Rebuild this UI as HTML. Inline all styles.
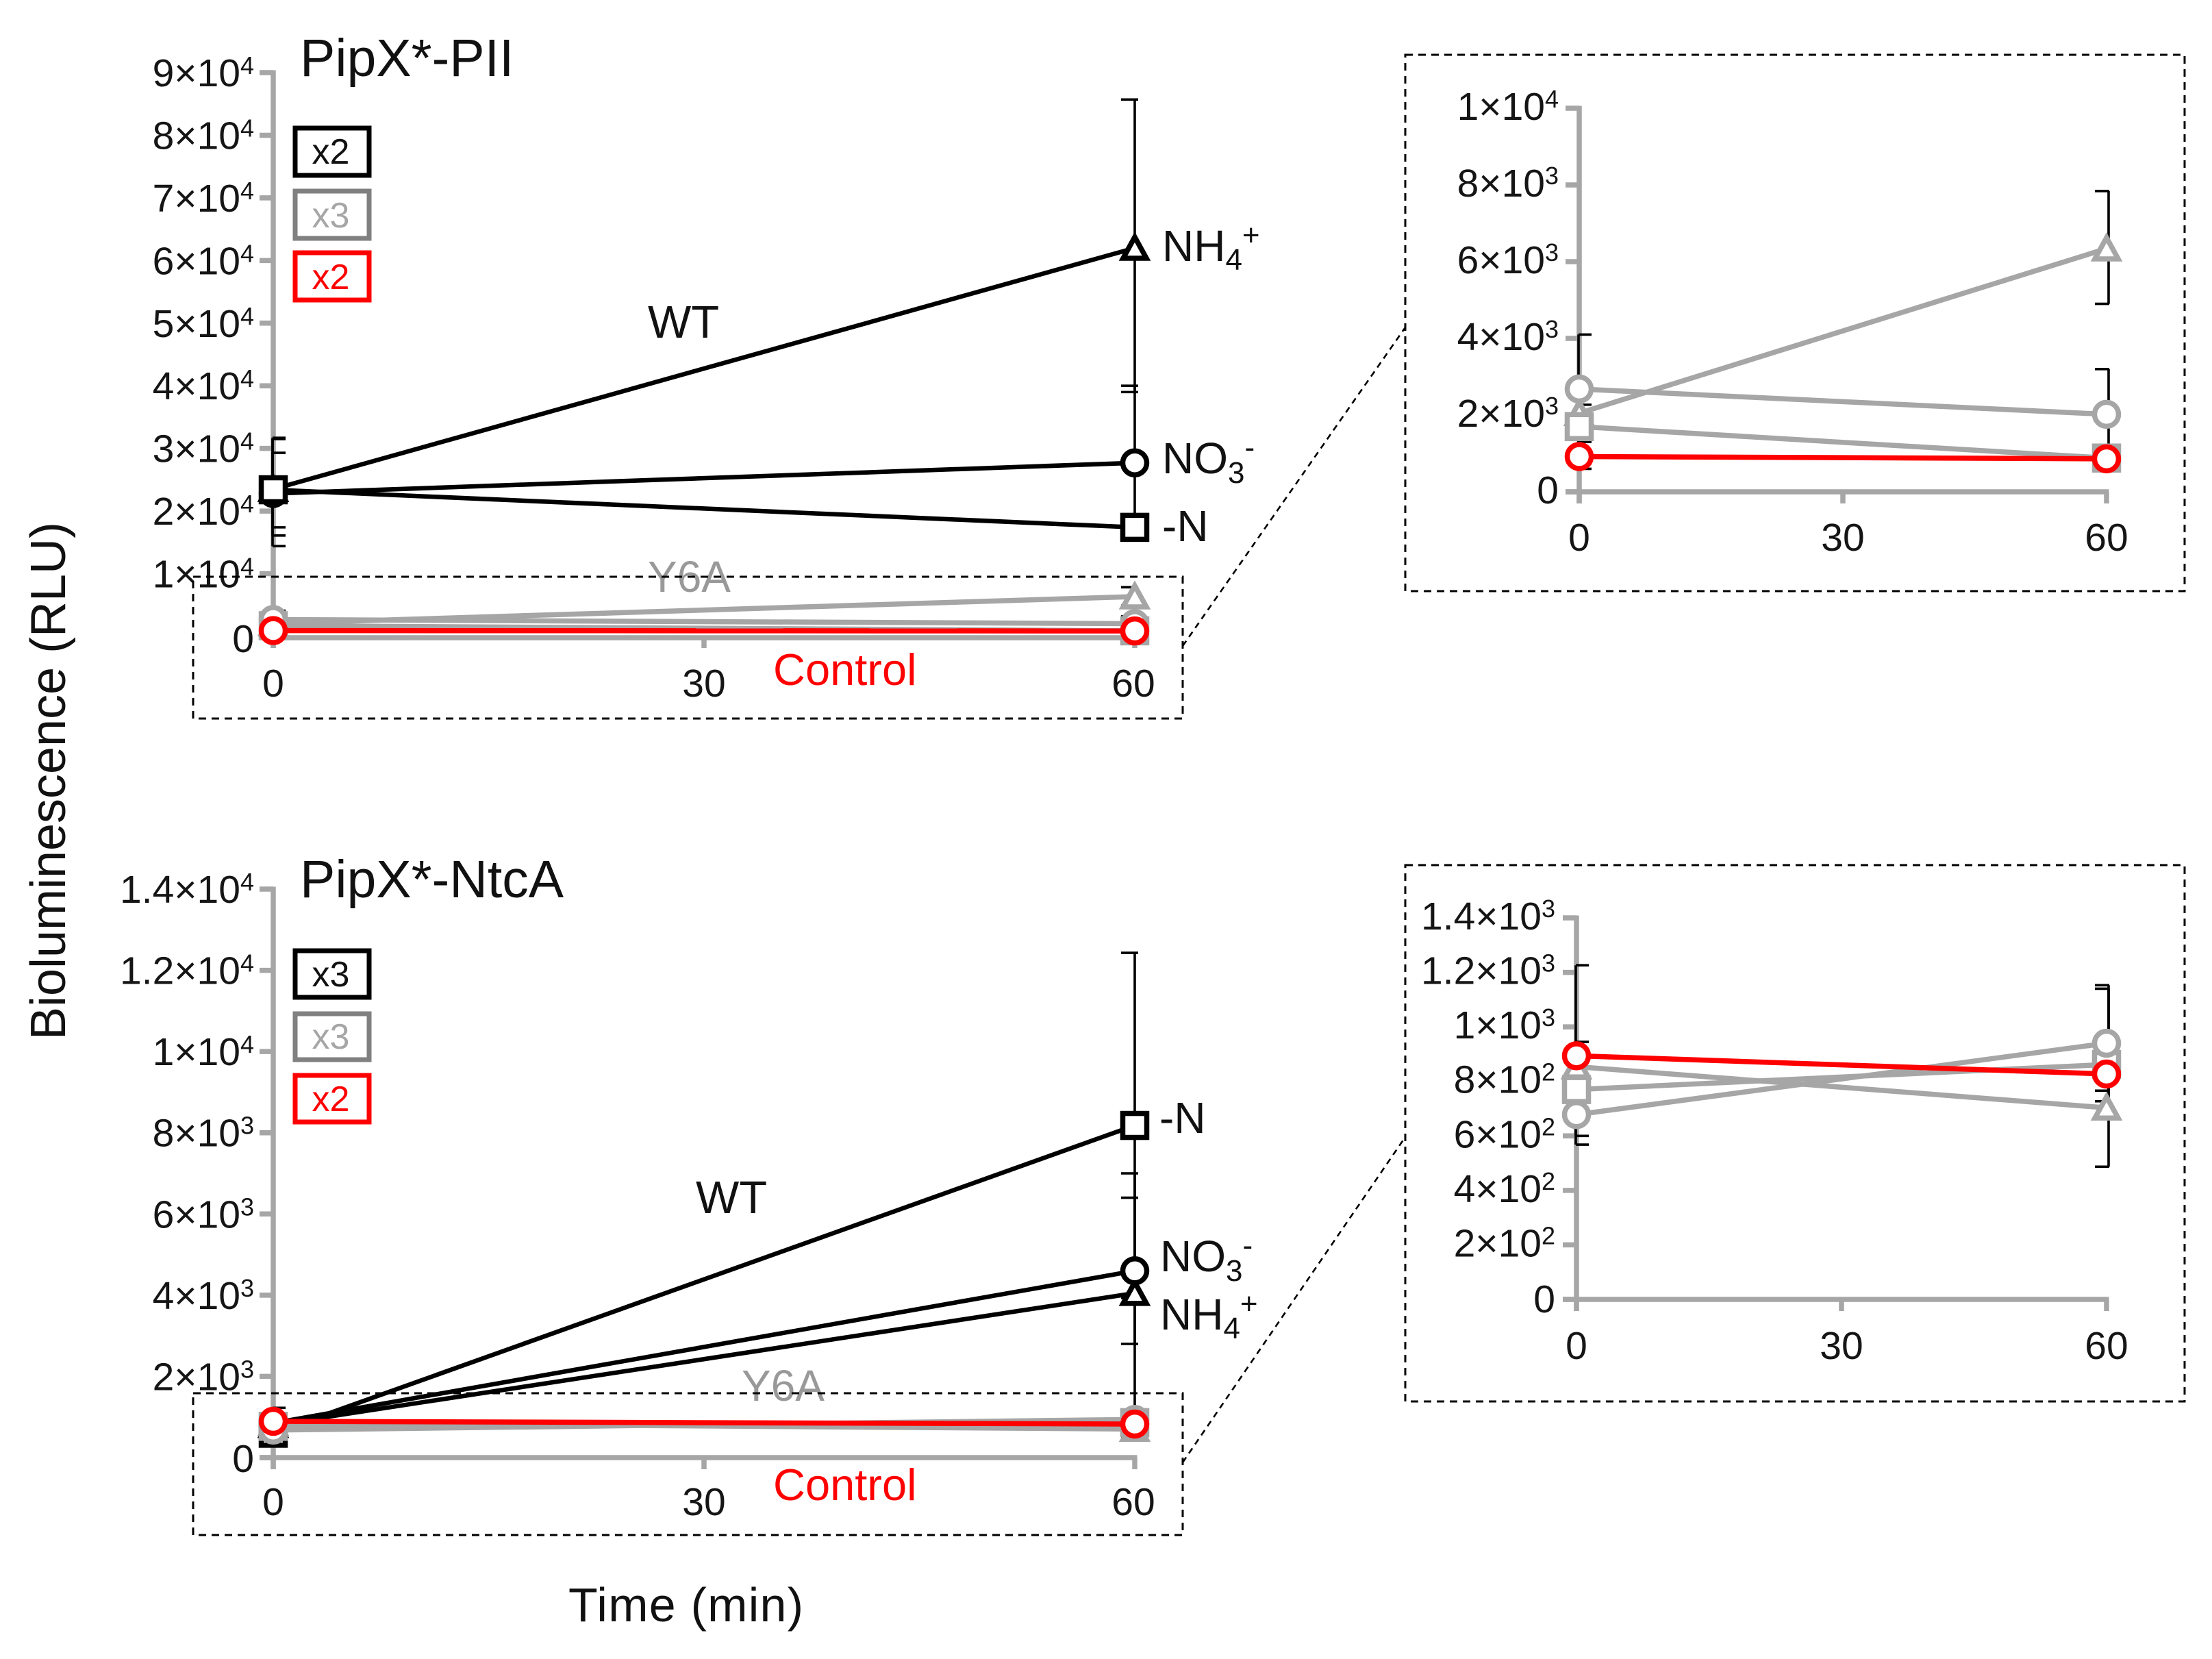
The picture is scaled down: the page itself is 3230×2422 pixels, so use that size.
<!DOCTYPE html>
<html lang="en">
<head>
<meta charset="utf-8">
<title>PipX bioluminescence time course</title>
<style>
html,body{margin:0;padding:0;background:#fff;}
svg{display:block;}
text{font-family:"Liberation Sans",Arial,sans-serif;}
</style>
</head>
<body>
<svg id="figure" xmlns="http://www.w3.org/2000/svg" width="3230" height="2422" viewBox="0 0 3230 2422">
<rect width="3230" height="2422" fill="#fff"/>
<g id="plots"></g>

<text x="438" y="111" font-size="77" fill="#111">PipX*-PII</text>
<text x="438" y="1310" font-size="77" fill="#111">PipX*-NtcA</text>
<text transform="translate(95,1518) rotate(-90)" font-size="72" fill="#111" textLength="756" lengthAdjust="spacingAndGlyphs">Bioluminescence (RLU)</text>
<text x="830" y="2367" font-size="70" fill="#111" textLength="343">Time (min)</text>

<g>
<rect x="431" y="187" width="108" height="69" fill="#fff" stroke="#000" stroke-width="7"/>
<text x="483" y="239" font-size="52" text-anchor="middle" fill="#111">x2</text>
<rect x="431" y="279" width="108" height="69" fill="#fff" stroke="#808080" stroke-width="7"/>
<text x="483" y="332" font-size="52" text-anchor="middle" fill="#a6a6a6">x3</text>
<rect x="431" y="369" width="108" height="69" fill="#fff" stroke="#ff0000" stroke-width="7"/>
<text x="483" y="422" font-size="52" text-anchor="middle" fill="#ff0000">x2</text>
</g>
<g>
<rect x="431" y="1388" width="108" height="68" fill="#fff" stroke="#000" stroke-width="7"/>
<text x="483" y="1440" font-size="52" text-anchor="middle" fill="#111">x3</text>
<rect x="431" y="1480" width="108" height="67" fill="#fff" stroke="#808080" stroke-width="7"/>
<text x="483" y="1531" font-size="52" text-anchor="middle" fill="#a6a6a6">x3</text>
<rect x="431" y="1570" width="108" height="68" fill="#fff" stroke="#ff0000" stroke-width="7"/>
<text x="483" y="1622" font-size="52" text-anchor="middle" fill="#ff0000">x2</text>
</g>

<g font-size="64" fill="#111">
<text x="946" y="493" font-size="67">WT</text>
<text x="946" y="864" fill="#999">Y6A</text>
<text x="1129" y="1000" font-size="65" fill="#ff0000">Control</text>
<text x="1697" y="381">NH<tspan font-size="44" dy="13">4</tspan><tspan font-size="44" dy="-36">+</tspan></text>
<text x="1697" y="691">NO<tspan font-size="44" dy="14">3</tspan><tspan font-size="44" dy="-37">-</tspan></text>
<text x="1697" y="790">-N</text>
</g>
<g font-size="64" fill="#111">
<text x="1016" y="1771" font-size="67">WT</text>
<text x="1083" y="2045" fill="#999">Y6A</text>
<text x="1129" y="2190" font-size="65" fill="#ff0000">Control</text>
<text x="1693" y="1654">-N</text>
<text x="1694" y="1856">NO<tspan font-size="44" dy="14">3</tspan><tspan font-size="44" dy="-37">-</tspan></text>
<text x="1694" y="1941">NH<tspan font-size="44" dy="13">4</tspan><tspan font-size="44" dy="-36">+</tspan></text>
</g>

<g fill="none" stroke="#000" stroke-width="3">
<rect x="282" y="842" width="1445" height="207" stroke-dasharray="11 8"/>
<rect x="282" y="2034" width="1445" height="207" stroke-dasharray="11 8"/>
<rect x="2052" y="80" width="1138" height="783" stroke-dasharray="11 8"/>
<rect x="2052" y="1263" width="1138" height="783" stroke-dasharray="11 8"/>
<line x1="1727" y1="943" x2="2052" y2="478" stroke-width="2.6" stroke-dasharray="9 7"/>
<line x1="1727" y1="2135" x2="2052" y2="1660" stroke-width="2.6" stroke-dasharray="9 7"/>
</g>

<script>
/* ---------- shared axis data ---------- */
const timePoints = [0, 60];
const xTickValues = [0, 30, 60];

/* ---------- PipX*-PII WT series ---------- */
const piiNh4 = [23500, 62000];
const piiNh4Low = [14400, 39000];
const piiNh4High = [31700, 85700];
const piiNo3 = [22800, 27700];
const piiNo3Low = [16100, 17400];
const piiNo3High = [29300, 40000];
const piiMinusN = [23400, 17400];
const piiMinusNLow = [17400, 17000];
const piiMinusNHigh = [31500, 18000];

/* ---------- PipX*-PII Y6A and control series ---------- */
const piiY6aNh4 = [2050, 6340];
const piiY6aNh4Low = [1600, 4900];
const piiY6aNh4High = [2270, 7840];
const piiY6aNo3 = [2680, 2020];
const piiY6aNo3Low = [1300, 900];
const piiY6aNo3High = [4100, 3200];
const piiY6aMinusN = [1700, 880];
const piiY6aMinusNLow = [600, 800];
const piiY6aMinusNHigh = [1900, 1000];
const piiControl = [920, 860];

/* ---------- PipX*-NtcA WT series ---------- */
const ntcaMinusN = [600, 8180];
const ntcaMinusNLow = [500, 3930];
const ntcaMinusNHigh = [700, 12430];
const ntcaNo3 = [850, 4600];
const ntcaNo3Low = [750, 2800];
const ntcaNo3High = [950, 6400];
const ntcaNh4 = [800, 4050];
const ntcaNh4Low = [700, 1100];
const ntcaNh4High = [900, 7000];

/* ---------- PipX*-NtcA Y6A and control series ---------- */
const ntcaY6aNh4 = [854, 703];
const ntcaY6aNh4Low = [568, 487];
const ntcaY6aNh4High = [1226, 920];
const ntcaY6aMinusN = [770, 862];
const ntcaY6aMinusNLow = [700, 766];
const ntcaY6aMinusNHigh = [945, 1140];
const ntcaY6aNo3 = [678, 940];
const ntcaY6aNo3Low = [600, 727];
const ntcaY6aNo3High = [900, 1153];
const ntcaControl = [894, 827];

/* ---------- tick values and printed labels ---------- */
const piiYTicks = [0, 10000, 20000, 30000, 40000, 50000, 60000, 70000, 80000, 90000];
const piiYLabels = ["0", "1×10^4", "2×10^4", "3×10^4", "4×10^4", "5×10^4", "6×10^4", "7×10^4", "8×10^4", "9×10^4"];
const piiInsetYTicks = [0, 2000, 4000, 6000, 8000, 10000];
const piiInsetYLabels = ["0", "2×10^3", "4×10^3", "6×10^3", "8×10^3", "1×10^4"];
const ntcaYTicks = [0, 2000, 4000, 6000, 8000, 10000, 12000, 14000];
const ntcaYLabels = ["0", "2×10^3", "4×10^3", "6×10^3", "8×10^3", "1×10^4", "1.2×10^4", "1.4×10^4"];
const ntcaInsetYTicks = [0, 200, 400, 600, 800, 1000, 1200, 1400];
const ntcaInsetYLabels = ["0", "2×10^2", "4×10^2", "6×10^2", "8×10^2", "1×10^3", "1.2×10^3", "1.4×10^3"];

const BLACK = '#000000';
const GREY = '#a6a6a6';
const RED = '#ff0000';
const SVG_NS = 'http://www.w3.org/2000/svg';
const plots = document.getElementById('plots');

function makeEl(parent, tag, attrs, name) {
  const el = document.createElementNS(SVG_NS, tag);
  for (const k in attrs) el.setAttribute(k, attrs[k]);
  
  
  parent.appendChild(el);
  return el;
}

function drawMarker(g, shape, cx, cy, color, name) {
  const sw = 7.5;
  if (shape === 'square') {
    makeEl(g, 'rect', { x: cx - 17.5, y: cy - 17.5, width: 35, height: 35, fill: '#fff', stroke: color, 'stroke-width': sw }, name);
  } else if (shape === 'circle') {
    makeEl(g, 'circle', { cx: cx, cy: cy, r: 17.5, fill: '#fff', stroke: color, 'stroke-width': sw }, name);
  } else {
    const pts = [[cx, cy - 16], [cx + 17, cy + 15], [cx - 17, cy + 15]].map(p => p.join(',')).join(' ');
    makeEl(g, 'polygon', { points: pts, fill: '#fff', stroke: color, 'stroke-width': sw }, name);
  }
}

function drawTickLabel(g, x, y, label, anchor, name) {
  const t = makeEl(g, 'text', { x: x, y: y, 'font-size': 57, 'text-anchor': anchor, fill: '#151515' }, name);
  const parts = label.split('^');
  const main = document.createElementNS(SVG_NS, 'tspan');
  main.textContent = parts[0];
  t.appendChild(main);
  if (parts[1]) {
    const sup = document.createElementNS(SVG_NS, 'tspan');
    sup.setAttribute('font-size', '36');
    sup.setAttribute('dy', '-18');
    sup.textContent = parts[1];
    t.appendChild(sup);
  }
}

function drawPanel(p) {
  const root = makeEl(plots, 'g', {}, p.name);
  const sx = t => p.x0 + (p.x60 - p.x0) * t / 60;
  const sy = v => p.y0 - (p.y0 - p.yTop) * v / p.yMax;

  /* axes */
  const axes = makeEl(root, 'g', { stroke: GREY, 'stroke-width': 7.5, fill: 'none' }, 'axes');
  makeEl(axes, 'line', { x1: sx(0), x2: sx(0), y1: sy(p.yMax) - 3.5, y2: sy(0) + 17 }, 'y-axis-line');
  makeEl(axes, 'line', { x1: sx(0) - 20, x2: sx(60) + 3.5, y1: sy(0) + p.xAxisShift, y2: sy(0) + p.xAxisShift }, 'x-axis-line');
  p.yTicks.forEach((v, i) => {
    makeEl(axes, 'line', { x1: sx(0) - 20, x2: sx(0), y1: sy(v), y2: sy(v) }, 'y-tick');
    const off = v === 0 ? p.zeroDrop : p.labelDrop;
    drawTickLabel(root, p.labelRight, sy(v) + off, p.yLabels[i], 'end', 'y-tick-label');
  });
  xTickValues.forEach(t => {
    makeEl(axes, 'line', { x1: sx(t), x2: sx(t), y1: sy(0), y2: sy(0) + 17 }, 'x-tick');
    drawTickLabel(root, sx(t) + (t === 60 ? p.lastLabelShift : 0), p.xLabelY, String(t), 'middle', 'x-tick-label');
  });

  /* error bars */
  const errs = makeEl(root, 'g', { stroke: BLACK, 'stroke-width': 3.6, fill: 'none' }, 'error-bars');
  p.series.forEach(s => {
    if (!s.low) return;
    timePoints.forEach((t, i) => {
      const ex = sx(t) + (t === 0 ? -1 : p.err60);
      const capA = t === 0 ? ex : ex - 20;
      const capB = t === 0 ? ex + 19 : ex + p.err60Right;
      makeEl(errs, 'line', { x1: ex, x2: ex, y1: sy(s.low[i]), y2: sy(s.high[i]) }, 'error-stem-' + s.id);
      makeEl(errs, 'line', { x1: capA, x2: capB, y1: sy(s.low[i]), y2: sy(s.low[i]) }, 'error-cap-' + s.id);
      makeEl(errs, 'line', { x1: capA, x2: capB, y1: sy(s.high[i]), y2: sy(s.high[i]) }, 'error-cap-' + s.id);
    });
  });

  /* series */
  p.series.forEach(s => {
    const g = makeEl(root, 'g', {}, 'series-' + s.id);
    makeEl(g, 'line', {
      x1: sx(timePoints[0]), y1: sy(s.values[0]),
      x2: sx(timePoints[1]), y2: sy(s.values[1]),
      stroke: s.color, 'stroke-width': s.color === BLACK ? 6.5 : 7.5
    }, 'line-' + s.id);
    timePoints.forEach((t, i) => {
      drawMarker(g, s.shape, sx(t), sy(s.values[i]), s.color, 'point-' + s.id);
    });
  });
}

const piiWt = [
  { id: 'wt-nh4', shape: 'triangle', color: BLACK, values: piiNh4, low: piiNh4Low, high: piiNh4High },
  { id: 'wt-no3', shape: 'circle', color: BLACK, values: piiNo3, low: piiNo3Low, high: piiNo3High },
  { id: 'wt-minus-n', shape: 'square', color: BLACK, values: piiMinusN, low: piiMinusNLow, high: piiMinusNHigh }
];
const piiLow = [
  { id: 'y6a-nh4', shape: 'triangle', color: GREY, values: piiY6aNh4, low: piiY6aNh4Low, high: piiY6aNh4High },
  { id: 'y6a-minus-n', shape: 'square', color: GREY, values: piiY6aMinusN, low: piiY6aMinusNLow, high: piiY6aMinusNHigh },
  { id: 'y6a-no3', shape: 'circle', color: GREY, values: piiY6aNo3, low: piiY6aNo3Low, high: piiY6aNo3High },
  { id: 'control', shape: 'circle', color: RED, values: piiControl }
];
const ntcaWt = [
  { id: 'wt-minus-n', shape: 'square', color: BLACK, values: ntcaMinusN, low: ntcaMinusNLow, high: ntcaMinusNHigh },
  { id: 'wt-nh4', shape: 'triangle', color: BLACK, values: ntcaNh4, low: ntcaNh4Low, high: ntcaNh4High },
  { id: 'wt-no3', shape: 'circle', color: BLACK, values: ntcaNo3, low: ntcaNo3Low, high: ntcaNo3High }
];
const ntcaLow = [
  { id: 'y6a-nh4', shape: 'triangle', color: GREY, values: ntcaY6aNh4, low: ntcaY6aNh4Low, high: ntcaY6aNh4High },
  { id: 'y6a-minus-n', shape: 'square', color: GREY, values: ntcaY6aMinusN, low: ntcaY6aMinusNLow, high: ntcaY6aMinusNHigh },
  { id: 'y6a-no3', shape: 'circle', color: GREY, values: ntcaY6aNo3, low: ntcaY6aNo3Low, high: ntcaY6aNo3High },
  { id: 'control', shape: 'circle', color: RED, values: ntcaControl }
];

drawPanel({ name: 'panel-pii', x0: 399, x60: 1657, y0: 929, yTop: 106, yMax: 90000, xAxisShift: 2,
  yTicks: piiYTicks, yLabels: piiYLabels, labelRight: 371, labelDrop: 20, zeroDrop: 23, xLabelY: 1017, lastLabelShift: -2,
  err60: 0, err60Right: 5, series: piiWt.concat(piiLow) });
drawPanel({ name: 'panel-ntca', x0: 399, x60: 1657, y0: 2128, yTop: 1298, yMax: 14000, xAxisShift: 0,
  yTicks: ntcaYTicks, yLabels: ntcaYLabels, labelRight: 371, labelDrop: 20, zeroDrop: 21, xLabelY: 2212, lastLabelShift: -2,
  err60: 0, err60Right: 5, series: ntcaWt.concat(ntcaLow) });
drawPanel({ name: 'inset-pii', x0: 2306, x60: 3076, y0: 718, yTop: 158, yMax: 10000, xAxisShift: 0,
  yTicks: piiInsetYTicks, yLabels: piiInsetYLabels, labelRight: 2276, labelDrop: 17, zeroDrop: 17, xLabelY: 804, lastLabelShift: 0,
  err60: 3, err60Right: 1, series: piiLow });
drawPanel({ name: 'inset-ntca', x0: 2302, x60: 3076, y0: 1897, yTop: 1340, yMax: 1400, xAxisShift: 0,
  yTicks: ntcaInsetYTicks, yLabels: ntcaInsetYLabels, labelRight: 2271, labelDrop: 17, zeroDrop: 19, xLabelY: 1984, lastLabelShift: 0,
  err60: 3, err60Right: 1, series: ntcaLow });
</script>
</svg>
</body>
</html>
